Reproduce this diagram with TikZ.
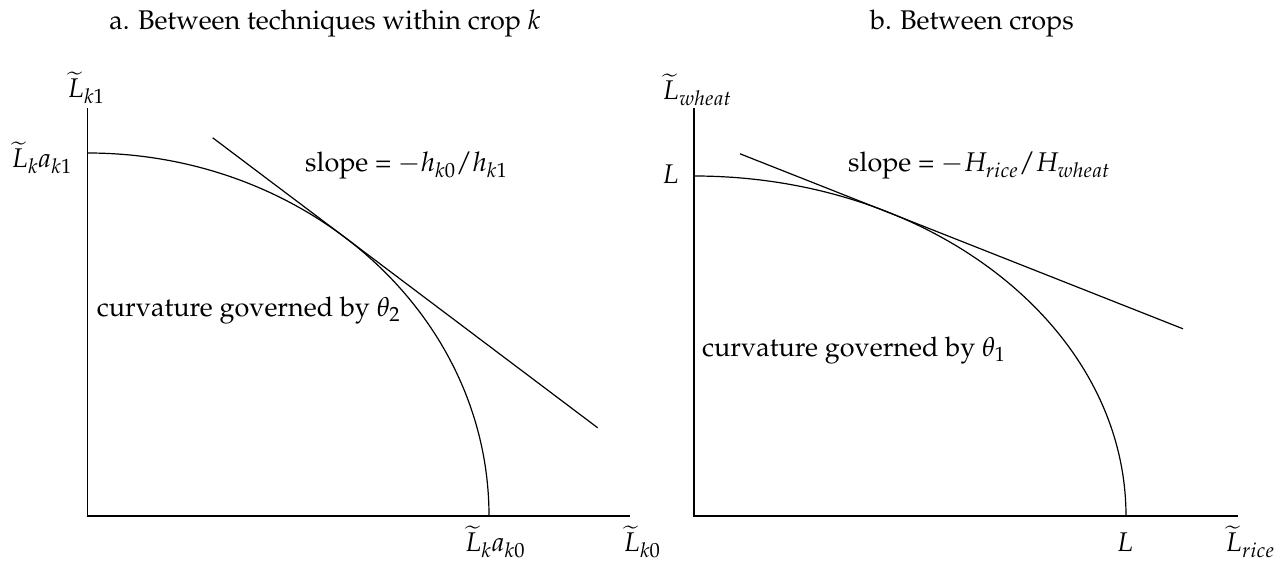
\documentclass[tikz,border=0pt]{standalone}
\usepackage[T1]{fontenc}
\usepackage{mathpazo}
\begin{document}
\begin{tikzpicture}[x=1pt,y=1pt,
  font=\fontsize{27}{32}\selectfont,
  lbl/.style={inner sep=0pt},
  ln/.style={line width=1.2pt, black}]
\useasboundingbox (0,0) rectangle (1288,563);
% ---------- titles
\node[lbl, anchor=base] (ta) at (325,533) {a. Between techniques within crop $k$};
\node[lbl, anchor=base] (tb) at (972,533) {b. Between crops};
% ---------- panel a
\coordinate (Oa) at (87.5,47);
\coordinate (Ya) at (87.5,455);
\coordinate (Xa) at (630,47);
\draw[ln] (Ya) -- (Oa) -- (Xa);
\coordinate (Ca) at (87.5,410);
\draw[ln] (Ca) arc[start angle=90, end angle=0, x radius=401.5, y radius=363];
\coordinate (Ta1) at (212.7,425.2);
\coordinate (Ta2) at (597.7,135.2);
\draw[ln] (Ta1) -- (Ta2);
\node[lbl, anchor=base] (lya) at (86,465) {$\widetilde{L}_{k1}$};
\node[lbl, anchor=base east] (lyva) at (72,395) {$\widetilde{L}_k a_{k1}$};
\node[lbl, anchor=base west] (sa) at (305,391) {slope = $-h_{k0}/h_{k1}$};
\node[lbl, anchor=base west] (cva) at (96.7,246.3) {curvature governed by $\theta_2$};
\node[lbl, anchor=base] (lxva) at (495,11.3) {$\widetilde{L}_k a_{k0}$};
\node[lbl, anchor=base] (lxa) at (642,11.3) {$\widetilde{L}_{k0}$};
% ---------- panel b
\coordinate (Ob) at (694,47);
\coordinate (Yb) at (694,455);
\coordinate (Xb) at (1238,47);
\draw[ln] (Yb) -- (Ob) -- (Xb);
\coordinate (Cb) at (694,387);
\draw[ln] (Cb) arc[start angle=90, end angle=0, x radius=432, y radius=340];
\coordinate (Tb1) at (740,409.2);
\coordinate (Tb2) at (1183,234.2);
\draw[ln] (Tb1) -- (Tb2);
\node[lbl, anchor=base] (lyb) at (697,463) {$\widetilde{L}_{wheat}$};
\node[lbl, anchor=base east] (lyvb) at (679,379) {$L$};
\node[lbl, anchor=base west] (sb) at (848,391) {slope = $-H_{rice}/H_{wheat}$};
\node[lbl, anchor=base west] (cvb) at (702,207) {curvature governed by $\theta_1$};
\node[lbl, anchor=base] (lxvb) at (1125,11.3) {$L$};
\node[lbl, anchor=base] (lxb) at (1250,11.3) {$\widetilde{L}_{rice}$};
\end{tikzpicture}
\end{document}
